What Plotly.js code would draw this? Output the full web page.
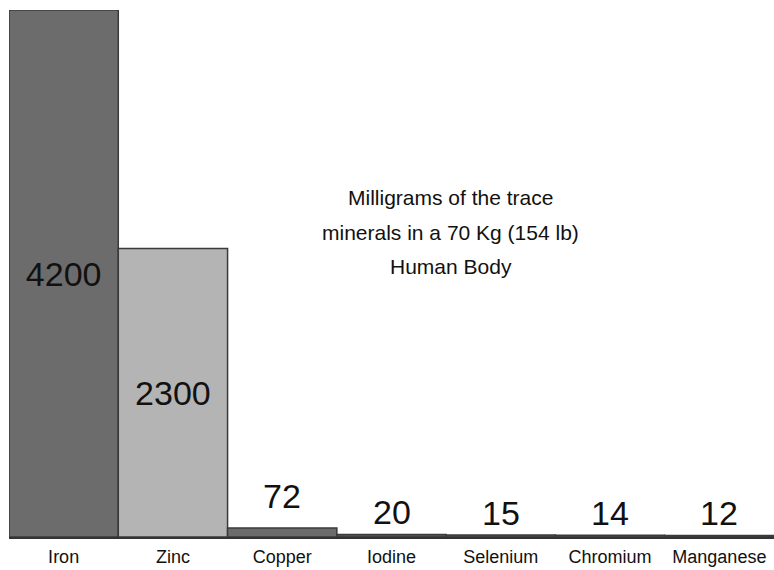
<!DOCTYPE html>
<html>
<head>
<meta charset="utf-8">
<script src="https://cdn.plot.ly/plotly-3.0.1.min.js"></script>
<style>html,body{margin:0;padding:0;background:#fff;}#chart{width:774px;height:570px;}</style>
</head>
<body>
<div id="chart"></div>
<script>
const minerals = ["Iron", "Zinc", "Copper", "Iodine", "Selenium", "Chromium", "Manganese"];
const milligrams = [4200, 2300, 72, 20, 15, 14, 12];
const valueLabels = ["4200", "2300", "72", "20", "15", "14", "12"];
const titleLines = ["Milligrams of the trace", "minerals in a 70 Kg (154 lb)", "Human Body"];

const FONT = "Liberation Sans, Arial, sans-serif";
const barColors = ["#6c6c6c", "#b4b4b4", "#6c6c6c", "#555555", "#555555", "#555555", "#555555"];
const isInside = milligrams.map(v => v > 1000);

const trace = {
  type: "bar",
  x: minerals,
  y: milligrams,
  text: valueLabels.map((t, i) => isInside[i] ? t : ""),
  textposition: "inside",
  insidetextanchor: "middle",
  constraintext: "none",
  textfont: {family: FONT, size: 34, color: "#111"},
  insidetextfont: {family: FONT, size: 34, color: "#111"},
  marker: {color: barColors, line: {color: "#3a3a3a", width: 1.5}},
  hoverinfo: "none"
};

const titleAnns = titleLines.map((t, i) => ({
  text: t,
  xref: "paper", yref: "paper",
  x: (451 - 9) / 765, y: (537 - (198 + i * 34)) / 527,
  xanchor: "center", yanchor: "middle",
  showarrow: false,
  font: {family: FONT, size: 21, color: "#111"}
}));

// value labels above the short bars (Copper's label sits a little higher in the original)
const extraLift = {Copper: 10};
const valueAnns = [];
minerals.forEach((m, i) => {
  if (isInside[i]) return;
  valueAnns.push({
    text: valueLabels[i],
    x: m, y: milligrams[i], xref: "x", yref: "y",
    xanchor: "center", yanchor: "middle",
    yshift: 22 + (extraLift[m] || 0),
    showarrow: false,
    font: {family: FONT, size: 34, color: "#111"}
  });
});

const layout = {
  width: 774, height: 570,
  margin: {l: 9, r: 0, t: 10, b: 33},
  paper_bgcolor: "#fff", plot_bgcolor: "#fff",
  bargap: 0,
  showlegend: false,
  xaxis: {
    showgrid: false, zeroline: false,
    showline: true, linecolor: "#333", linewidth: 1.5,
    ticks: "", ticklabelstandoff: 3,
    tickfont: {family: FONT, size: 18, color: "#111"}
  },
  yaxis: {
    range: [0, 4200], visible: false, showgrid: false, zeroline: false
  },
  annotations: titleAnns.concat(valueAnns)
};

Plotly.newPlot("chart", [trace], layout, {staticPlot: true, displayModeBar: false});
</script>
</body>
</html>
